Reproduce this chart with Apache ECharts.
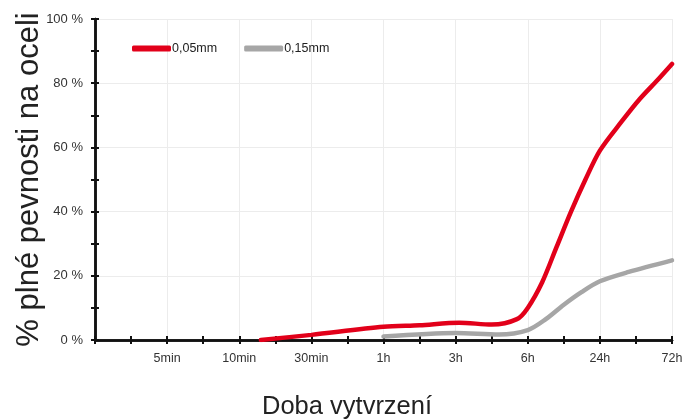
<!DOCTYPE html>
<html>
<head>
<meta charset="utf-8">
<script src="https://cdn.jsdelivr.net/npm/echarts@6/dist/echarts.min.js"></script>
<style>
  html, body { margin: 0; padding: 0; background: #fff; }
  #chart { width: 683px; height: 419px; }
</style>
</head>
<body>
<div id="chart"></div>
<script>
// tick labels along the time axis (index = position on axis)
const timeLabels = ['', '5min', '10min', '30min', '1h', '3h', '6h', '24h', '72h']

// 0,05mm series (x = position on time axis, y = % of full strength)
const redX = [2.3, 3, 4, 4.5, 5.05, 5.5, 5.85, 6, 6.2, 6.4, 6.6, 6.8, 7, 7.3, 7.55, 7.8, 8]
const redY = [0, 1.6, 4.1, 4.6, 5.4, 4.8, 6.5, 10, 18, 29, 40, 50, 59, 68, 75, 81, 86]

// 0,15mm series
const grayX = [4, 5, 5.6, 6, 6.25, 6.5, 6.75, 7, 7.4, 8]
const grayY = [1.1, 2.2, 1.7, 3.1, 6.5, 11, 15, 18.3, 21.2, 24.8]

const font = 'Liberation Sans, Arial, sans-serif'
const axisColor = '#111'

const toPairs = (xs, ys) => xs.map((x, i) => [x, ys[i]])

const baseX = {
  type: 'value',
  min: 0,
  max: 8,
  interval: 1,
  position: 'bottom',
  axisLine: { show: true, lineStyle: { color: axisColor, width: 2.5 } },
  splitLine: { show: false },
  minorTick: { show: true, splitNumber: 2, length: 4, lineStyle: { color: axisColor, width: 2 } },
  axisTick: { show: true, length: 4, lineStyle: { color: axisColor, width: 2 } },
  axisLabel: { show: false }
}

const baseY = {
  type: 'value',
  min: 0,
  max: 100,
  interval: 20,
  position: 'left',
  axisLine: { show: true, lineStyle: { color: axisColor, width: 2.5 } },
  splitLine: { show: false },
  minorTick: { show: true, splitNumber: 2, length: 4, lineStyle: { color: axisColor, width: 2 } },
  axisTick: { show: true, length: 4, lineStyle: { color: axisColor, width: 2 } },
  axisLabel: { show: false }
}

const chart = echarts.init(document.getElementById('chart'))

chart.setOption({
  animation: false,
  title: {
    text: 'Doba vytvrzení',
    left: 262,
    top: 394,
    padding: 0,
    textStyle: { fontFamily: font, fontSize: 25.5, fontWeight: 'normal', color: '#222' }
  },
  grid: { left: 95, right: 11, top: 19, bottom: 79, outerBoundsMode: 'none' },
  legend: {
    left: 127,
    top: 37,
    itemWidth: 39,
    itemHeight: 6,
    itemGap: 27,
    icon: 'roundRect',
    textStyle: { fontFamily: font, fontSize: 12.5, color: '#222', padding: [0, 0, 0, -4] },
    data: ['0,05mm', '0,15mm']
  },
  xAxis: [
    {
      ...baseX,
      axisTick: { ...baseX.axisTick, inside: false },
      splitLine: { show: true, lineStyle: { color: '#ececec', width: 1 } },
      axisLabel: {
        show: true,
        margin: 12,
        fontFamily: font,
        fontSize: 12.5,
        color: '#333',
        formatter: v => timeLabels[v] || ''
      }
    },
    {
      ...baseX,
      axisTick: { ...baseX.axisTick, inside: true }
    }
  ],
  yAxis: [
    {
      ...baseY,
      axisTick: { ...baseY.axisTick, inside: false },
      splitLine: { show: true, lineStyle: { color: '#ececec', width: 1 } },
      axisLabel: {
        show: true,
        margin: 12,
        fontFamily: font,
        fontSize: 13,
        color: '#333',
        formatter: '{value} %'
      },
      name: '% plné pevnosti na oceli',
      nameLocation: 'middle',
      nameRotate: 90,
      nameGap: 50,
      nameMoveOverlap: false,
      nameTextStyle: { fontFamily: font, fontSize: 31, color: '#222' }
    },
    {
      ...baseY,
      axisTick: { ...baseY.axisTick, inside: true }
    }
  ],
  series: [
    {
      name: '0,15mm',
      type: 'line',
      xAxisIndex: 0,
      yAxisIndex: 0,
      data: toPairs(grayX, grayY),
      smooth: 0.3,
      symbol: 'none',
      color: '#a6a6a6',
      lineStyle: { width: 4.5, color: '#a6a6a6', cap: 'round' },
      z: 3
    },
    {
      name: '0,05mm',
      type: 'line',
      xAxisIndex: 0,
      yAxisIndex: 0,
      data: toPairs(redX, redY),
      smooth: 0.3,
      symbol: 'none',
      color: '#e2001a',
      lineStyle: { width: 4.5, color: '#e2001a', cap: 'round' },
      z: 4
    }
  ]
})
</script>
</body>
</html>
